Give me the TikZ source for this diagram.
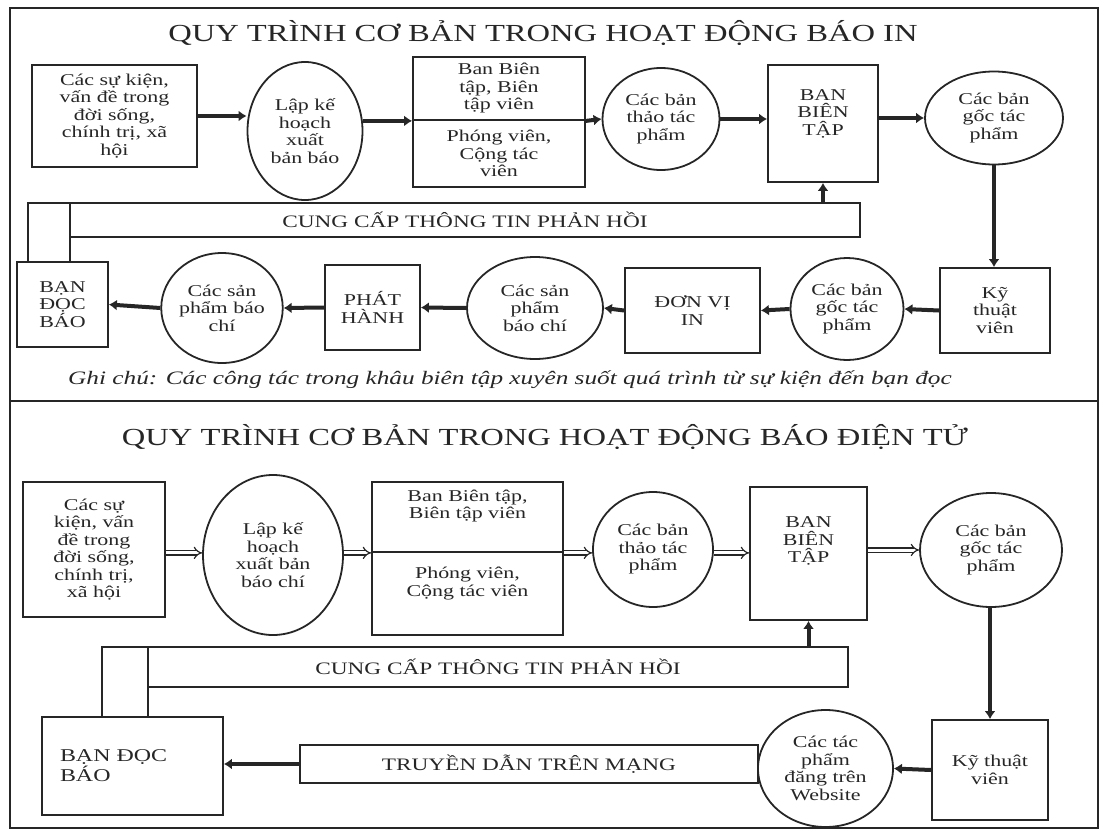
\documentclass[tikz,border=0pt]{standalone}
\usepackage{fontspec}
\setmainfont{Liberation Serif}[FakeStretch=1.33]
\usetikzlibrary{arrows.meta,shapes.geometric,calc}

\colorlet{ink}{black!85}
\tikzset{
  box/.style={draw=ink, text=ink, line width=1.8pt, align=center, inner sep=2pt,
    font=\fontsize{16.5}{17.5}\selectfont},
  oval/.style={ellipse, draw=ink, text=ink, line width=1.8pt, align=center, inner sep=0pt,
    font=\fontsize{16.5}{17.5}\selectfont},
  bar/.style={draw=ink, text=ink, line width=1.8pt, font=\fontsize{17.5}{18}\selectfont},
  heading/.style={text=ink, font=\fontsize{24.5}{28}\selectfont},
  flow/.style={draw=ink, line width=4pt, -{Latex[length=8pt,width=11pt]}},
  dflow/.style={draw=ink, double, double distance=3pt, line width=1.2pt, -{Implies}},
}

\begin{document}
\begin{tikzpicture}[x=1pt,y=-1pt]
  \useasboundingbox (0,0) rectangle (1101,830);
  % frames
  \draw[ink, line width=2.5pt] (10,8) rectangle (1098,401);
  \draw[ink, line width=2.5pt] (10,401) rectangle (1098,828);

  % ---- báo in ----
  \node[heading] (title1) at (543,33) {QUY TRÌNH CƠ BẢN TRONG HOẠT ĐỘNG BÁO IN};
  \node[box, minimum width=165pt, minimum height=102pt] (ev1) at (114.5,116)
    {Các sự kiện,\\vấn đề trong\\đời sống,\\chính trị, xã\\hội};
  \node[oval, minimum width=115pt, minimum height=138pt] (plan1) at (305,131)
    {Lập kế\\hoạch\\xuất\\bản báo};
  \node[box, minimum width=172pt, minimum height=63pt] (staffA1) at (499,88.5)
    {Ban Biên\\tập, Biên\\tập viên};
  \node[box, minimum width=172pt, minimum height=67pt] (staffB1) at (499,153.5)
    {Phóng viên,\\Cộng tác\\viên};
  \node[oval, minimum width=117pt, minimum height=102pt] (draft1) at (661,119)
    {Các bản\\thảo tác\\phẩm};
  \node[box, minimum width=110pt, minimum height=117pt] (bbt1) at (823,123.5)
    {BAN\\BIÊN\\TẬP\\[5pt]};
  \node[oval, minimum width=138pt, minimum height=93pt] (orig1) at (994,118)
    {Các bản\\gốc tác\\phẩm};
  \node[box, minimum width=110pt, minimum height=85pt] (tech1) at (995,310.5)
    {Kỹ\\thuật\\viên};
  \node[oval, minimum width=113pt, minimum height=102pt] (orig1b) at (847,309)
    {Các bản\\gốc tác\\phẩm};
  \node[box, minimum width=135pt, minimum height=85pt] (print1) at (692.5,310.5)
    {ĐƠN VỊ\\IN};
  \node[oval, minimum width=136pt, minimum height=102pt] (prod1b) at (535,308)
    {Các sản\\phẩm\\báo chí};
  \node[box, minimum width=95pt, minimum height=85pt] (dist1) at (372.5,307.5)
    {PHÁT\\HÀNH};
  \node[oval, minimum width=121pt, minimum height=110pt] (prod1a) at (222,308)
    {Các sản\\phẩm báo\\chí};
  \node[box, minimum width=91pt, minimum height=85pt] (reader1) at (62.5,304.5)
    {BẠN\\ĐỌC\\BÁO};
  \node[bar, minimum width=42pt, minimum height=59pt] (stub1) at (49,232.5) {};
  \node[bar, minimum width=790pt, minimum height=34pt] (fb1) at (465,220)
    {CUNG CẤP THÔNG TIN PHẢN HỒI};
  \node[text=ink, font=\fontsize{19}{20}\selectfont\itshape] (note1) at (510,380)
    {Ghi chú: Các công tác trong khâu biên tập xuyên suốt quá trình từ sự kiện đến bạn đọc};

  \draw[flow] (ev1.east) -- (ev1.east -| plan1.west);
  \draw[flow] (plan1.east |- staffA1.south) -- (staffA1.south west);
  \draw[flow] (staffA1.south east) -- (draft1.west);
  \draw[flow] (draft1.east) -- (draft1.east -| bbt1.west);
  \draw[flow] (bbt1.east |- orig1.west) -- (orig1.west);
  \draw[flow] (orig1.south) -- (orig1.south |- tech1.north);
  \draw[flow] (tech1.west) -- (orig1b.east);
  \draw[flow] (orig1b.west) -- (print1.east);
  \draw[flow] (print1.west) -- (prod1b.east);
  \draw[flow] (prod1b.west) -- (dist1.east);
  \draw[flow] (dist1.west) -- (prod1a.east);
  \draw[flow] (prod1a.west) -- (reader1.east);
  \draw[flow] (fb1.north -| bbt1.south) -- (bbt1.south);

  % ---- báo điện tử ----
  \node[heading] (title2) at (545,437) {QUY TRÌNH CƠ BẢN TRONG HOẠT ĐỘNG BÁO ĐIỆN TỬ};
  \node[box, minimum width=142pt, minimum height=135pt] (ev2) at (94,549.5)
    {Các sự\\kiện, vấn\\đề trong\\đời sống,\\chính trị,\\xã hội};
  \node[oval, minimum width=140pt, minimum height=160pt] (plan2) at (273,555)
    {Lập kế\\hoạch\\xuất bản\\báo chí};
  \node[box, minimum width=191pt, minimum height=70pt] (staffA2) at (467.5,517)
    {Ban Biên tập,\\Biên tập viên\\[8pt]};
  \node[box, minimum width=191pt, minimum height=83pt] (staffB2) at (467.5,593.5)
    {Phóng viên,\\Cộng tác viên\\[6pt]};
  \node[oval, minimum width=120pt, minimum height=115pt] (draft2) at (653,549.5)
    {Các bản\\thảo tác\\phẩm};
  \node[box, minimum width=117pt, minimum height=133pt] (bbt2) at (808.5,553.5)
    {BAN\\BIÊN\\TẬP\\[10pt]};
  \node[oval, minimum width=142pt, minimum height=114pt] (orig2) at (991,550)
    {Các bản\\gốc tác\\phẩm};
  \node[box, minimum width=116pt, minimum height=100pt] (tech2) at (990,770)
    {Kỹ thuật\\viên};
  \node[oval, minimum width=135pt, minimum height=117pt] (web2) at (825.5,768.5)
    {Các tác\\phẩm\\đăng trên\\Website};
  \node[bar, minimum width=458pt, minimum height=38pt] (net2) at (529,764)
    {TRUYỀN DẪN TRÊN MẠNG};
  \node[box, align=left, text width=145pt, minimum width=181pt, minimum height=98pt,
    font=\fontsize{18}{20}\selectfont] (reader2) at (132.5,766)
    {BẠN ĐỌC\\BÁO};
  \node[bar, minimum width=46pt, minimum height=70pt] (stub2) at (125,682) {};
  \node[bar, minimum width=700pt, minimum height=40pt] (fb2) at (498,667)
    {CUNG CẤP THÔNG TIN PHẢN HỒI};

  \draw[dflow] (ev2.east |- staffA2.south) -- (plan2.west |- staffA2.south);
  \draw[dflow] (plan2.east |- staffA2.south) -- (staffA2.south west);
  \draw[dflow] (staffA2.south east) -- (draft2.west |- staffA2.south);
  \draw[dflow] (draft2.east |- staffA2.south) -- (bbt2.west |- staffA2.south);
  \draw[dflow] (bbt2.east |- orig2.west) -- (orig2.west);
  \draw[flow] (orig2.south -| tech2.north) -- (tech2.north);
  \draw[flow] (tech2.west) -- (web2.east);
  \draw[flow] (net2.west) -- (net2.west -| reader2.east);
  \draw[flow] (fb2.north -| bbt2.south) -- (bbt2.south);
\end{tikzpicture}
\end{document}
